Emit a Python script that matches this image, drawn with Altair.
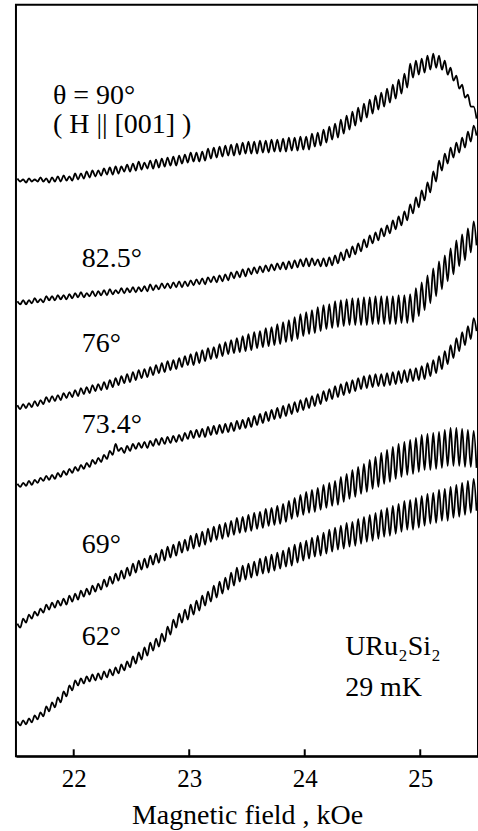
import altair as alt
import pandas as pd

# Magnetic field sampling: one dHvA oscillation period per entry (kOe)
field_start = 21.5
field_step = 0.05
tick_values = [22, 23, 24, 25]

# Signal (arbitrary units, offset per angle) at oscillation maxima / minima
peaks_90 = [579,578,579,578,580,579,580,581,582,581, 584,584,586,587,587,589,590,591,591,593,
            594,596,595,597,598,599,600,601,602,603, 605,605,606,609,610,611,612,613,614,615,
            616,616,617,617,618,618,619,620,620,621, 621,624,625,628,631,634,638,642,646,650,
            654,658,662,665,669,673,678,684,694,697, 699,702,704,702,697,690,682,673,663,651]
troughs_90 = [576,575,576,576,576,575,576,576,577,577, 578,579,580,581,582,583,583,584,586,586,
              587,588,589,589,590,591,592,592,594,595, 596,596,597,599,600,601,602,602,603,604,
              604,604,605,605,606,606,606,607,607,608, 608,611,612,615,618,620,624,628,632,636,
              640,644,648,651,655,659,664,670,680,683, 685,688,690,688,683,677,669,660,651,639]

peaks_825 = [456,457,457,459,458,461,461,462,462,463, 464,465,464,466,466,467,468,467,469,469,
             470,470,471,473,472,474,474,475,476,476, 477,478,479,480,481,482,483,485,486,488,
             489,490,491,492,493,494,495,496,497,498, 499,499,498,499,500,502,505,508,511,514,
             518,522,525,529,532,537,541,546,553,560, 567,575,586,597,604,610,615,620,626,632]
troughs_825 = [453,453,454,455,455,457,457,458,458,459, 460,460,461,461,462,462,463,464,464,465,
               465,466,466,467,468,469,469,470,470,471, 472,473,473,475,475,476,477,479,480,481,
               483,484,485,486,487,488,488,489,490,491, 491,492,491,491,492,494,497,500,503,506,
               510,514,517,521,524,528,532,537,544,550, 557,565,576,587,594,600,605,610,616,622]

peaks_76 = [352,353,354,356,357,360,361,362,364,365, 367,369,370,372,373,375,377,379,381,383,
            385,387,388,390,392,394,396,397,399,401, 403,405,407,409,410,413,415,417,419,421,
            423,425,426,429,430,433,435,437,440,443, 445,447,450,452,453,456,457,458,459,459,
            460,460,461,461,461,461,462,462,463,469, 475,482,489,496,502,509,517,523,529,536]
troughs_76 = [348,349,350,351,353,355,356,357,359,360, 361,363,364,366,367,368,370,372,374,375,
              377,379,380,382,384,385,387,388,390,392, 392,394,396,398,399,401,403,404,405,406,
              407,409,410,411,412,413,415,416,418,421, 423,424,426,428,429,430,431,432,432,432,
              432,433,433,433,433,433,434,434,435,441, 447,454,461,468,476,483,491,497,505,512]

peaks_734 = [273,274,276,277,279,281,282,284,286,288, 290,292,294,297,299,302,306,313,309,311,
             313,314,315,316,318,319,320,321,322,324, 326,327,328,330,331,332,333,334,336,337,
             339,341,343,345,347,349,351,353,355,357, 359,361,363,366,368,371,373,375,377,379,
             381,382,383,383,384,385,386,387,388,389, 391,394,397,401,406,412,419,425,431,439]
troughs_734 = [270,271,272,274,276,277,278,280,282,284, 286,288,290,293,295,298,302,306,304,306,
               308,309,309,311,312,313,314,315,316,318, 319,320,320,322,323,324,325,326,328,329,
               330,332,334,336,338,339,341,343,345,347, 349,351,353,356,358,360,362,364,366,368,
               369,370,371,371,372,373,374,375,376,377, 378,381,384,388,393,399,406,412,418,426]

peaks_69 = [133,138,142,145,148,152,154,156,158,161, 163,166,168,171,173,177,180,183,186,189,
            193,196,198,201,203,207,210,212,215,217, 221,223,225,228,230,232,234,236,239,240,
            242,244,245,248,249,251,253,256,259,262, 265,267,269,272,274,276,280,283,287,290,
            293,297,300,304,307,310,313,315,317,319, 322,323,324,325,327,329,329,328,327,326]
troughs_69 = [129,134,138,141,144,147,149,151,152,155, 157,160,162,165,167,170,173,176,178,181,
              184,187,189,192,194,196,199,201,204,206, 208,210,212,215,217,218,220,222,224,225,
              226,228,229,231,232,233,235,238,240,242, 244,245,247,249,251,252,255,258,260,263,
              265,268,270,273,275,278,280,282,283,285, 287,287,288,289,291,291,291,290,290,289]

peaks_62 = [35,36,38,41,44,50,54,59,65,71, 76,78,80,82,83,85,87,89,92,95,
            100,104,109,114,118,123,130,137,143,147, 152,156,161,165,171,175,179,184,189,191,
            193,195,198,200,202,204,206,209,212,214, 216,219,221,224,227,229,231,234,235,238,
            240,242,244,247,249,251,253,256,257,259, 261,263,264,267,268,270,272,274,276,278]
troughs_62 = [31,32,34,37,40,45,49,54,60,66, 71,73,75,76,77,79,81,83,86,89,
              93,97,101,106,110,115,122,129,134,137, 142,146,151,155,159,163,167,171,175,177,
              179,181,183,184,186,188,190,191,194,196, 198,200,201,203,205,207,208,210,211,213,
              215,216,218,220,221,223,225,227,227,229, 231,233,234,236,236,239,240,242,244,246]

series = [("90", peaks_90, troughs_90), ("82.5", peaks_825, troughs_825),
          ("76", peaks_76, troughs_76), ("73.4", peaks_734, troughs_734),
          ("69", peaks_69, troughs_69), ("62", peaks_62, troughs_62)]

rows = []
for name, pk, tr in series:
    for i, (p, t) in enumerate(zip(pk, tr)):
        rows.append({"trace": name, "H": field_start + field_step * (i + 0.25), "M": p, "k": 2 * i})
        rows.append({"trace": name, "H": field_start + field_step * (i + 0.75), "M": t, "k": 2 * i + 1})
df = pd.DataFrame(rows)

label_text = ["θ = 90°", "( H || [001] )", "82.5°", "76°", "73.4°", "69°", "62°", "URu₂Si₂", "29 mK"]
label_H = [21.82, 21.82, 22.07, 22.07, 22.07, 22.07, 22.07, 24.35, 24.35]
label_M = [654, 625, 490, 405, 324, 204, 112, 102, 60]
labels = pd.DataFrame({"text": label_text, "H": label_H, "M": label_M})

FONT = "Liberation Serif"
xscale = alt.Scale(domain=[21.5, 25.5], nice=False, zero=False)
yscale = alt.Scale(domain=[0, 753], nice=False, zero=False)

lines = alt.Chart(df).mark_line(color="black", strokeWidth=1.8, interpolate="monotone").encode(
    x=alt.X("H:Q", scale=xscale,
            axis=alt.Axis(values=tick_values, format="d", ticks=False, tickSize=0, grid=False,
                          domainColor="black", domainWidth=2,
                          labelFont=FONT, labelFontSize=25, labelColor="black", labelPadding=10,
                          title="Magnetic field ,  kOe", titleFont=FONT, titleFontSize=28,
                          titleFontWeight="normal", titleColor="black", titlePadding=10)),
    y=alt.Y("M:Q", scale=yscale, axis=None),
    detail="trace:N",
    order="k:Q",
)

ticks_df = pd.DataFrame({"H": tick_values})
ticks = alt.Chart(ticks_df).mark_rule(color="black", strokeWidth=2).encode(
    x=alt.X("H:Q", scale=xscale), y=alt.value(746), y2=alt.value(753))

text = alt.Chart(labels).mark_text(align="left", baseline="alphabetic", font=FONT,
                                   fontSize=28, color="black").encode(
    x=alt.X("H:Q", scale=xscale), y=alt.Y("M:Q", scale=yscale), text="text:N")

chart = alt.layer(lines, ticks, text).properties(
    width=463, height=753,
    background="white",
    autosize=alt.AutoSizeParams(type="none"),
    padding={"left": 16, "top": 4, "right": 0, "bottom": 74},
).configure_view(stroke="black", strokeWidth=2)

chart.save("out.html", embed_options={"renderer": "svg", "actions": False})
